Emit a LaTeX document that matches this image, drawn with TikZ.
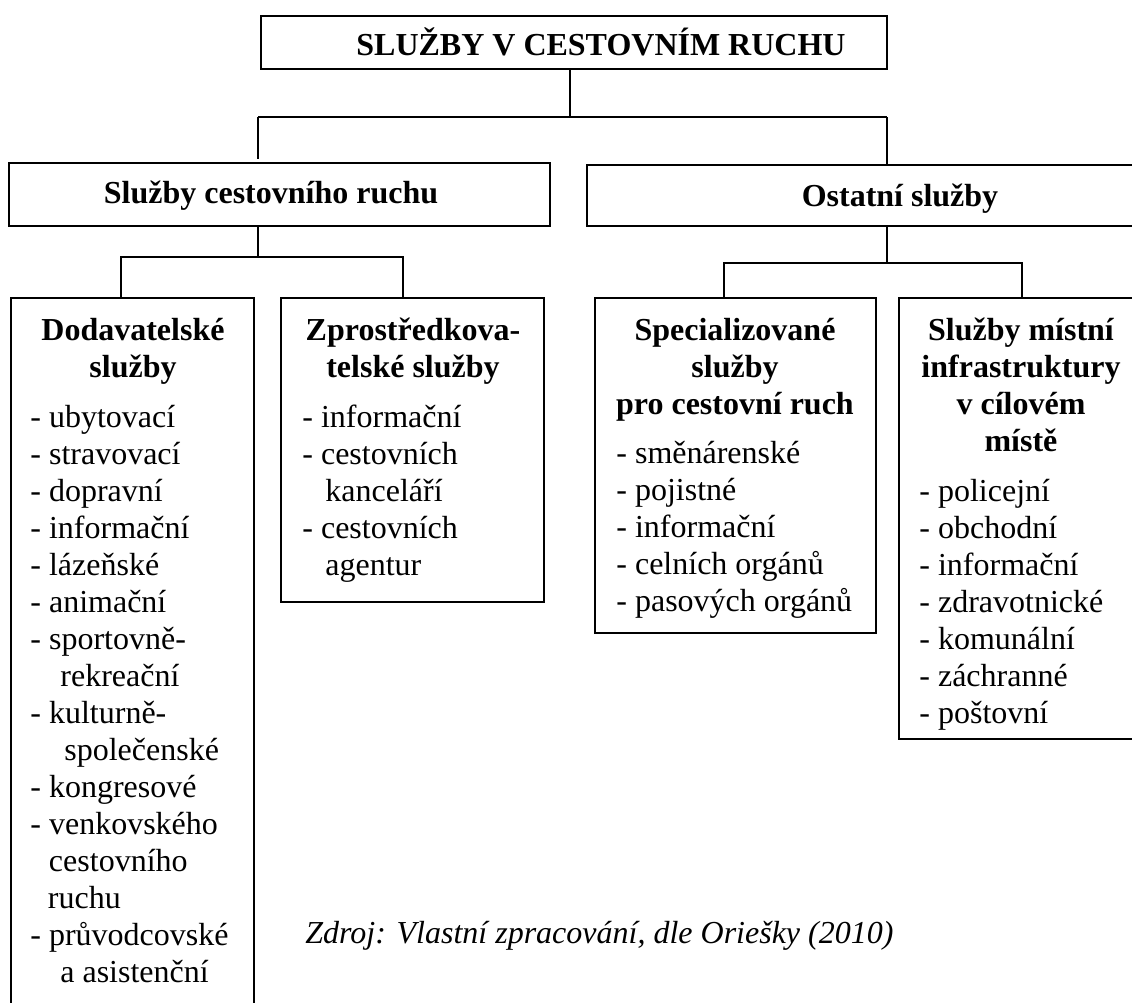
\documentclass[tikz,border=0pt]{standalone}
\usepackage{fontspec}
\setmainfont{Liberation Serif}
\usepackage{tikz}
\newcommand{\diafont}{\fontsize{16pt}{18.5pt}\selectfont}
\newcommand{\boxtitle}[1]{\begin{tabular}[t]{@{}c@{}}#1\end{tabular}}
\newcommand{\itemlist}[1]{\begin{tabular}[t]{@{}l@{}}#1\end{tabular}}
\tikzstyle{box} = [draw, line width=0.8pt, inner sep=0pt, outer sep=0pt, anchor=north west]
\tikzstyle{link} = [line width=0.8pt]
\tikzstyle{ttl} = [anchor=base, inner sep=0pt, font=\diafont\bfseries]
\tikzstyle{lst} = [anchor=base west, inner sep=0pt, font=\diafont]

\begin{document}
\begin{tikzpicture}[x=0.5pt, y=-0.5pt]
\useasboundingbox (0,0) rectangle (1132,1003);
\clip (0,0) rectangle (1132,1003);

% Boxes
\node[box, minimum width=313pt, minimum height=26.5pt] (top) at (261,16) {};
\node[box, minimum width=270.5pt, minimum height=31.5pt] (cr) at (9,163) {};
\node[box, minimum width=300pt, minimum height=30.5pt] (ost) at (587,165) {};
\node[box, minimum width=121.5pt, minimum height=360pt] (dod) at (11,298) {};
\node[box, minimum width=131.5pt, minimum height=152pt] (zpr) at (281,298) {};
\node[box, minimum width=140.5pt, minimum height=167.5pt] (spec) at (595,298) {};
\node[box, minimum width=123pt, minimum height=220.5pt] (mist) at (899,298) {};

% Connectors
\coordinate (b0) at (570,117);
\coordinate (b0l) at (258,117);
\coordinate (b0r) at (887,117);
\draw[link] (top.south -| b0) -- (b0);
\draw[link] (b0l) -- (b0r);
\draw[link, shorten >=2pt] (b0l) -- (b0l |- cr.north);
\draw[link] (b0r) -- (b0r |- ost.north);

\coordinate (b1) at (258,257);
\coordinate (b1l) at (121,257);
\coordinate (b1r) at (403,257);
\draw[link] (cr.south -| b1) -- (b1);
\draw[link] (dod.north -| b1l) |- (b1r) -- (zpr.north -| b1r);

\coordinate (b2) at (887,263);
\coordinate (b2l) at (724,263);
\coordinate (b2r) at (1022,263);
\draw[link] (ost.south -| b2) -- (b2);
\draw[link] (spec.north -| b2l) |- (b2r) -- (mist.north -| b2r);

% Titles
\node[ttl] (t0) at (601,55) {SLUŽBY V CESTOVNÍM RUCHU};
\node[ttl] (t1) at (271,203) {Služby cestovního ruchu};
\node[ttl] (t2) at (900,206) {Ostatní služby};
\node[ttl] (t3) at (133,340) {\boxtitle{Dodavatelské\\služby}};
\node[ttl] (t4) at (413,340) {\boxtitle{Zprostředkova-\\telské služby}};
\node[ttl] (t5) at (735,340) {\boxtitle{Specializované\\služby\\pro cestovní ruch}};
\node[ttl] (t6) at (1021,340) {\boxtitle{Služby místní\\infrastruktury\\v cílovém\\místě}};

% Lists
\node[lst] (l3) at (30,427) {\itemlist{- ubytovací\\- stravovací\\- dopravní\\- informační\\- lázeňské\\- animační\\- sportovně-\\\hspace{15pt}rekreační\\- kulturně-\\\hspace{17pt}společenské\\- kongresové\\- venkovského\\\hspace{9.3pt}cestovního\\\hspace{8.8pt}ruchu\\- průvodcovské\\\hspace{15pt}a asistenční}};
\node[lst] (l4) at (302,427) {\itemlist{- informační\\- cestovních\\\hspace{11.5pt}kanceláří\\- cestovních\\\hspace{11.5pt}agentur}};
\node[lst] (l5) at (616,463) {\itemlist{- směnárenské\\- pojistné\\- informační\\- celních orgánů\\- pasových orgánů}};
\node[lst] (l6) at (919,501) {\itemlist{- policejní\\- obchodní\\- informační\\- zdravotnické\\- komunální\\- záchranné\\- poštovní}};

% Source
\node[anchor=base west, inner sep=0pt, font=\diafont\itshape] (src) at (305,943) {Zdroj: Vlastní zpracování, dle Oriešky (2010)};
\end{tikzpicture}
\end{document}
